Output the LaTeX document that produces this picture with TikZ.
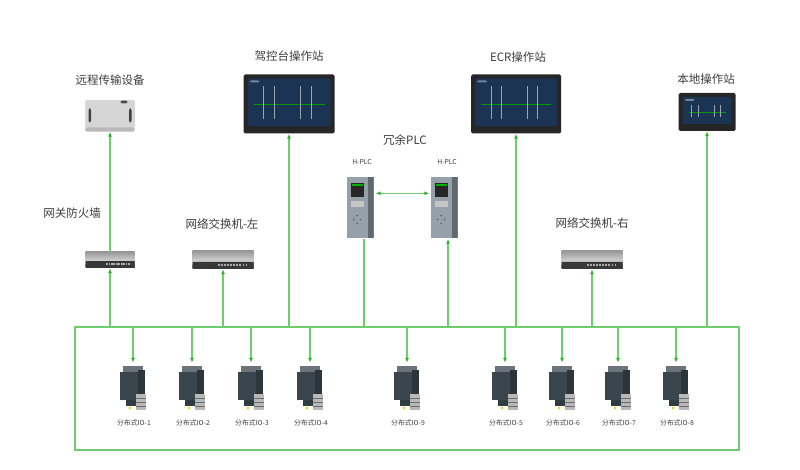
\documentclass[tikz,border=0pt]{standalone}
\usepackage{fontspec}
\setmainfont{Noto Sans CJK SC}
\usetikzlibrary{arrows.meta,calc}
\definecolor{gruen}{RGB}{110,205,110}
\definecolor{spitze}{RGB}{45,180,45}
\definecolor{schirm}{RGB}{28,52,84}
\definecolor{schiefer}{RGB}{58,70,78}
\definecolor{plcgrau}{RGB}{150,160,170}
\definecolor{schrift}{RGB}{60,60,60}

\begin{document}
\begin{tikzpicture}[x=1pt,y=-1pt,
  beschriftung/.style={text=schrift,font=\fontsize{11.5}{13}\selectfont},
  klein/.style={text=schrift,font=\fontsize{6.8}{8}\selectfont},
  leitung/.style={draw=gruen,line width=1.1pt},
  pfeil/.style={leitung,-{Latex[length=5pt,width=4pt,color=spitze]}},
  doppelpfeil/.style={leitung,{Latex[length=5pt,width=4pt,color=spitze]}-{Latex[length=5pt,width=4pt,color=spitze]}},
  bildschirm/.style={fill=black!85,rounded corners=1.5pt,inner sep=0,path picture={
    \fill[schirm] ([shift={(4,4)}]path picture bounding box.north west) rectangle ([shift={(-4,-7)}]path picture bounding box.south east);
    \fill[schirm!60!white] ([shift={(6,6)}]path picture bounding box.north west) rectangle ++(10,2);
    \draw[green!60!black,line width=0.6pt] ([shift={(10,0)}]path picture bounding box.west) -- ([shift={(-10,0)}]path picture bounding box.east);
    \foreach \s in {0.22,0.34,0.62,0.74}
      \draw[schirm!45!white,line width=0.4pt] ($(path picture bounding box.north west)!\s!(path picture bounding box.north east)+(0,12)$) -- ($(path picture bounding box.south west)!\s!(path picture bounding box.south east)+(0,-14)$);}},
  schalter/.style={top color=black!40,bottom color=black!80,middle color=black!20,inner sep=0,path picture={
    \fill[black!78] ([shift={(0,-7)}]path picture bounding box.south west) rectangle (path picture bounding box.south east);
    \foreach \s in {0.42,0.47,0.52,0.57,0.62,0.67,0.72,0.77,0.82,0.87}
      \fill[gray!65] ($(path picture bounding box.south west)!\s!(path picture bounding box.south east)+(0,-5)$) rectangle ++(1.8,2.5);}},
  fernwirk/.style={fill=gray!32,draw=gray!55,rounded corners=2pt,inner sep=0,path picture={
    \fill[gray!55] ([shift={(0,-4)}]path picture bounding box.south west) rectangle (path picture bounding box.south east);
    \fill[gray!50!black] ([shift={(3,8)}]path picture bounding box.north west) rectangle ++(2.5,14);
    \fill[gray!50!black] ([shift={(-5.5,8)}]path picture bounding box.north east) rectangle ++(2.5,14);
    \fill[gray!60!black] ([shift={(-14,0)}]path picture bounding box.north east) rectangle ++(7,3);}},
  plc/.style={fill=plcgrau,minimum width=27,minimum height=61,inner sep=0,path picture={
    \fill[plcgrau!65!black] ([shift={(-6,0)}]path picture bounding box.north east) rectangle (path picture bounding box.south east);
    \fill[black!85] ([shift={(4,6)}]path picture bounding box.north west) rectangle ++(13,14);
    \fill[green!70!black] ([shift={(5,7)}]path picture bounding box.north west) rectangle ++(11,2);
    \fill[gray!45] ([shift={(4,24)}]path picture bounding box.north west) rectangle ++(13,6);
    \foreach \p in {(10.5,38),(7,42),(14,42),(10.5,46)}
      \fill[black!60] ([shift={\p}]path picture bounding box.north west) circle (1);}},
  io/.style={minimum width=30,minimum height=48,inner sep=0,path picture={
    \fill[schiefer!75!white] ([shift={(5,3)}]path picture bounding box.north west) rectangle ++(20,6);
    \fill[schiefer] ([shift={(2,9)}]path picture bounding box.north west) rectangle ++(18,28);
    \fill[schiefer!75!black] ([shift={(20,7)}]path picture bounding box.north west) rectangle ++(7,26);
    \fill[gray!55] ([shift={(18,31)}]path picture bounding box.north west) rectangle ++(10,16);
    \foreach \d in {35,39,43}
      \draw[gray!85!black,line width=0.4pt] ([shift={(18,\d)}]path picture bounding box.north west) -- ++(10,0);
    \fill[schiefer!85!black] ([shift={(8,37)}]path picture bounding box.north west) rectangle ++(10,6);
    \fill[yellow!70!brown] ([shift={(12,45)}]path picture bounding box.north west) circle (1.6);}}
]
\useasboundingbox (0,0) rectangle (800,470);

\node[fernwirk,minimum width=49,minimum height=31] (fernwirk) at (110,116) {};
\node[bildschirm,minimum width=91,minimum height=59] (fahrstand) at (289,104) {};
\node[bildschirm,minimum width=90,minimum height=59] (ecr) at (516,104) {};
\node[bildschirm,minimum width=57,minimum height=38] (lokal) at (707,112) {};
\node[schalter,minimum width=49,minimum height=16] (brandmauer) at (110,260) {};
\node[schalter,minimum width=61,minimum height=18] (schalterlinks) at (223,260) {};
\node[schalter,minimum width=61,minimum height=18] (schalterrechts) at (592,260) {};
\node[plc] (plclinks) at (360,208) {};
\node[plc] (plcrechts) at (444,208) {};

\node[beschriftung] at (110,80) {远程传输设备};
\node[beschriftung] at (289,56) {驾控台操作站};
\node[beschriftung] at (518,57) {ECR操作站};
\node[beschriftung] at (706,79) {本地操作站};
\node[beschriftung] at (72,213) {网关防火墙};
\node[beschriftung] at (222,224) {网络交换机-左};
\node[beschriftung] at (592,223) {网络交换机-右};
\node[beschriftung] at (405,140) {冗余PLC};
\node[klein] at (362,162) {H-PLC};
\node[klein] at (447,162) {H-PLC};

\node[io] (io1) at (133,387) {};
\node[io] (io2) at (192,387) {};
\node[io] (io3) at (251,387) {};
\node[io] (io4) at (310,387) {};
\node[io] (io9) at (407,387) {};
\node[io] (io5) at (505,387) {};
\node[io] (io6) at (562,387) {};
\node[io] (io7) at (618,387) {};
\node[io] (io8) at (676,387) {};
\node[klein] at (134,423) {分布式IO-1};
\node[klein] at (193,423) {分布式IO-2};
\node[klein] at (252,423) {分布式IO-3};
\node[klein] at (311,423) {分布式IO-4};
\node[klein] at (408,423) {分布式IO-9};
\node[klein] at (506,423) {分布式IO-5};
\node[klein] at (563,423) {分布式IO-6};
\node[klein] at (619,423) {分布式IO-7};
\node[klein] at (677,423) {分布式IO-8};

\coordinate (bus) at (75,327);
\coordinate (busende) at (739,450);
\draw[leitung] (bus) rectangle (busende);

\draw[pfeil] (brandmauer) -- (fernwirk);
\draw[pfeil] (brandmauer |- bus) -- (brandmauer);
\draw[pfeil] (schalterlinks |- bus) -- (schalterlinks);
\draw[pfeil] (fahrstand |- bus) -- (fahrstand);
\draw[leitung] ([xshift=4pt]plclinks.south |- bus) -- ([xshift=4pt]plclinks.south);
\draw[pfeil] ([xshift=4pt]plcrechts.south |- bus) -- ([xshift=4pt]plcrechts.south);
\draw[pfeil] (ecr |- bus) -- (ecr);
\draw[pfeil] (schalterrechts |- bus) -- (schalterrechts);
\draw[pfeil] (lokal |- bus) -- (lokal);
\draw[doppelpfeil,shorten <=2pt,shorten >=1pt] ([yshift=-16pt]plclinks.north east) -- ([yshift=-16pt]plcrechts.north west);

\draw[pfeil] (io1 |- bus) -- (io1);
\draw[pfeil] (io2 |- bus) -- (io2);
\draw[pfeil] (io3 |- bus) -- (io3);
\draw[pfeil] (io4 |- bus) -- (io4);
\draw[pfeil] (io9 |- bus) -- (io9);
\draw[pfeil] (io5 |- bus) -- (io5);
\draw[pfeil] (io6 |- bus) -- (io6);
\draw[pfeil] (io7 |- bus) -- (io7);
\draw[pfeil] (io8 |- bus) -- (io8);
\end{tikzpicture}
\end{document}
